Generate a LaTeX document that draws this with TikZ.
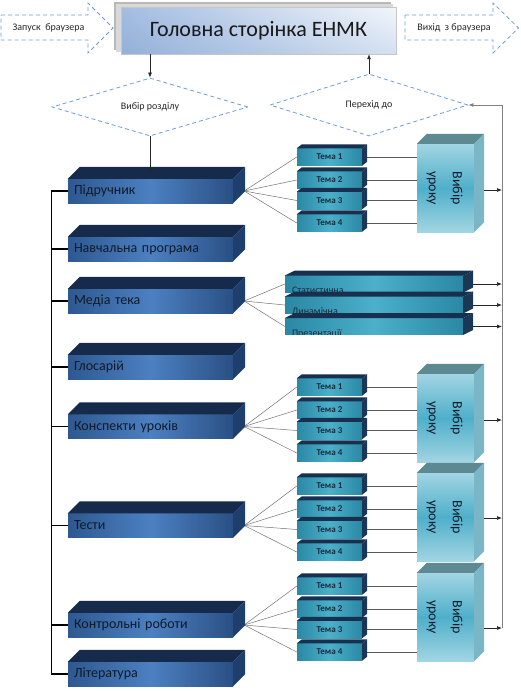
\documentclass[tikz,border=0pt]{standalone}
\usepackage{fontspec}
\setmainfont{Carlito}
\usetikzlibrary{shapes.geometric,arrows.meta,calc,shadings}
\pgfdeclarelayer{bg}
\pgfsetlayers{bg,main}
\definecolor{boxA}{HTML}{2E5890}
\definecolor{boxB}{HTML}{4C80C1}
\definecolor{boxC}{HTML}{2A5085}
\definecolor{navyTop}{HTML}{162B4B}
\definecolor{navySide}{HTML}{1E3F6D}
\definecolor{temaA}{HTML}{2A88A4}
\definecolor{temaB}{HTML}{4BB0CA}
\definecolor{temaTop}{HTML}{17304F}
\definecolor{temaSide}{HTML}{1A3756}
\definecolor{temaTxt}{HTML}{1B2B3D}
\definecolor{vybA}{HTML}{A2D5E3}
\definecolor{vybB}{HTML}{4EAFCA}
\definecolor{vybTop}{HTML}{5D8A92}
\definecolor{vybSide}{HTML}{7AB6C6}
\definecolor{dashblue}{HTML}{6E9ED6}
\definecolor{txtdark}{HTML}{0F1A2A}
\definecolor{mainL}{HTML}{A3BDE1}
\definecolor{mainLL}{HTML}{94B0D9}
\definecolor{mainR}{HTML}{F2F6FB}
\definecolor{mainLR}{HTML}{D3E0F0}

\tikzset{
 lboxst/.style={minimum width=165pt, minimum height=24pt, text width=153pt, inner xsep=6pt, inner ysep=0pt, align=left, left color=boxA, right color=boxC, middle color=boxB, font=\fontsize{14}{16}\selectfont, text=txtdark},
 temast/.style={minimum width=65pt, minimum height=17pt, inner sep=0pt, left color=temaA, right color=temaA, middle color=temaB, font=\fontsize{9}{10}\selectfont\bfseries, text=temaTxt},
 vybst/.style={minimum width=57pt, minimum height=88pt, inner sep=0pt, top color=vybA, bottom color=vybA, middle color=vybB},
 vybtxt/.style={rotate=-90, align=center, inner sep=0pt, font=\fontsize{14}{24}\selectfont, text=txtdark},
 msubst/.style={minimum width=178pt, minimum height=16.5pt, inner sep=0pt, left color=temaA, right color=temaA, middle color=temaB},
 msubtxt/.style={font=\fontsize{10}{12}\selectfont, text=temaTxt, inner sep=0pt},
 dashline/.style={draw=dashblue, line width=0.8pt, dash pattern=on 4pt off 3pt},
 smalltxt/.style={font=\fontsize{10}{12}\selectfont, text=black!85},
 arr/.style={-{Latex[length=5pt,width=4pt]}, line width=0.7pt, draw=black!85},
 fanline/.style={draw=black!55, line width=0.5pt},
 tline/.style={draw=black!65, line width=0.7pt},
 bracket/.style={draw=black, line width=1.3pt},
 rline/.style={draw=black!50, line width=0.8pt},
}

\newcommand\mkLbox[3]{%
 \node[lboxst] (#1) at (150.5,#2) {#3};
 \fill[navyTop] (#1.north west) -- ++(12,-12) -- ([shift={(12,-12)}]#1.north east) -- (#1.north east) -- cycle;
 \fill[navySide] (#1.north east) -- ++(12,-12) -- ([shift={(12,-12)}]#1.south east) -- (#1.south east) -- cycle;
 \coordinate (#1-fan) at ([xshift=11pt]#1.east);
 \coordinate (#1-top) at ([shift={(6,-6)}]#1.north);
}
\newcommand\mkTema[3]{%
 \node[temast] (#1) at (329.5,{#2}) {#3};
 \fill[temaTop] (#1.north west) -- ++(5,-4) -- ([shift={(5,-4)}]#1.north east) -- (#1.north east) -- cycle;
 \fill[temaSide] (#1.north east) -- ++(5,-4) -- ([shift={(5,-4)}]#1.south east) -- (#1.south east) -- cycle;
}
\newcommand\mkVyb[2]{%
 \node[vybst] (#1) at (445.5,{#2}) {};
 \fill[vybTop] (#1.north west) -- ++(10,-10) -- ([shift={(10,-10)}]#1.north east) -- (#1.north east) -- cycle;
 \fill[vybSide] (#1.north east) -- ++(10,-10) -- ([shift={(10,-10)}]#1.south east) -- (#1.south east) -- cycle;
 \node[vybtxt] (#1-t) at ([xshift=-1pt]#1.center) {Вибір\\уроку};
}
\newcommand\mkMsub[3]{%
 \node[msubst] (#1) at (374,#2) {};
 \fill[temaTop] (#1.north west) -- ++(10,-5) -- ([shift={(10,-5)}]#1.north east) -- (#1.north east) -- cycle;
 \fill[temaSide] (#1.north east) -- ++(10,-5) -- ([shift={(10,-5)}]#1.south east) -- (#1.south east) -- cycle;
 \begin{scope}
  \clip (#1.south west) rectangle (#1.north east);
  \node[msubtxt, anchor=base west] (#1-t) at ([shift={(7,1.5)}]#1.south west) {#3};
 \end{scope}
}
\newcommand\mkSet[4]{%
 \mkTema{#1a}{#2}{Тема 1}
 \mkTema{#1b}{#2+23}{Тема 2}
 \mkTema{#1c}{#2+43.5}{Тема 3}
 \mkTema{#1d}{#2+66}{Тема 4}
 \mkVyb{#1v}{#2+31}
 \begin{pgfonlayer}{bg}
  \foreach \s in {a,b,c,d} {
   \draw[fanline] (#3-fan) -- (#1\s.west);
   \draw[tline] (#1\s.east) -- (#1v.west |- #1\s.east);
  }
 \end{pgfonlayer}
 \path ([shift={(10,#4)}]#1v.east) coordinate (#1arr);
 \draw[arr] (#1arr) -- (#1arr -| rl-bot);
}

\begin{document}
\begin{tikzpicture}[x=1pt,y=-1pt]
\useasboundingbox (0,0) rectangle (520,691);
\begin{pgfonlayer}{bg}
\fill[white] (0,0) rectangle (520,691);
\end{pgfonlayer}
\coordinate (rl-bot) at (502,628);

% top arrows
\draw[dashline] (1,15) -- (88,15) -- (88,3) -- (113,28) -- (88,53) -- (88,40) -- (1,40) -- cycle;
\node[smalltxt] (start) at (48.5,27.5) {Запуск\ \ браузера};
\draw[dashline] (405,15) -- (493,15) -- (493,3) -- (518.5,28) -- (493,53) -- (493,40) -- (405,40) -- cycle;
\node[smalltxt] (exit) at (454,27.5) {Вихід\ \ з браузера};

% main box
\fill[gray!55] (114,2) rectangle (391,50);
\fill[gray!30] (116,4) rectangle (393,52);
\node[draw=gray!45, line width=0.4pt, minimum width=275pt, minimum height=47pt, inner sep=0pt,
  upper left=mainL, lower left=mainLL, upper right=mainR, lower right=mainLR,
  font=\fontsize{22}{26}\selectfont, text=black!90] (main) at (258.5,30.5) {Головна сторінка ЕНМК};

% diamonds
\node[diamond, dashline, aspect=3.4, minimum width=196pt, minimum height=58pt, inner sep=0pt, smalltxt] (d1) at (150,107) {Вибір розділу};
\node[diamond, dashline, aspect=3.2, minimum width=198pt, minimum height=62pt, inner sep=0pt, smalltxt] (d2) at (369,105) {Перехід до};

% left column
\mkLbox{pidr}{191}{Підручник}
\mkLbox{navch}{249}{Навчальна програма}
\mkLbox{media}{301}{Медіа тека}
\mkLbox{glos}{367}{Глосарій}
\mkLbox{konsp}{426.5}{Конспекти уроків}
\mkLbox{test}{525.5}{Тести}
\mkLbox{kontr}{625}{Контрольні роботи}
\mkLbox{lit}{674}{Література}

% bracket
\draw[bracket] (pidr.west) -- ++(-16,0) |- (lit.west);
\foreach \n in {navch,media,glos,konsp,test,kontr} {\draw[bracket] (\n.west) -- ++(-16,0);}

% return line
\draw[rline, -{Latex[length=5pt,width=4pt]}] (rl-bot) -- (rl-bot |- d2.east) -- (d2.east);

% lesson sets
\mkSet{P}{157}{pidr}{2}
\mkSet{K}{387}{konsp}{2}
\mkSet{T}{486}{test}{1}
\mkSet{R}{586}{kontr}{11}

% media items
\mkMsub{ms1}{284}{Статистична}
\mkMsub{ms2}{305}{Динамічна}
\mkMsub{ms3}{326.5}{Презентації}
\begin{pgfonlayer}{bg}
 \foreach \m in {ms1,ms2,ms3} {\draw[fanline] (media-fan) -- (\m.west);}
\end{pgfonlayer}
\foreach \m in {ms1,ms2,ms3} {\draw[arr] ([xshift=10pt]\m.east) -- (rl-bot |- \m.east);}

% arrows at top
\draw[arr] (main.south -| d1.north) -- (d1.north);
\draw[arr] (d1.south) -- (d1.south |- pidr-top);
\draw[arr] (d2.north) -- (d2.north |- main.south);
\end{tikzpicture}
\end{document}
